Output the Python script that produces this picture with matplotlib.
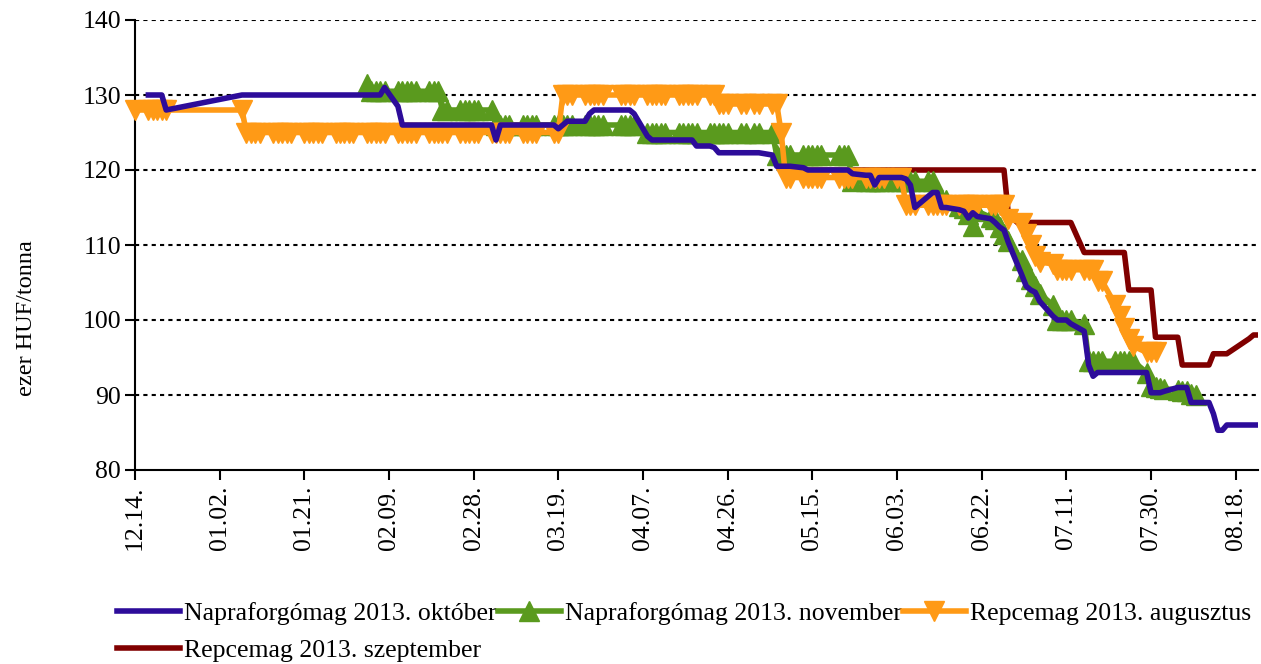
import numpy as np
import pandas as pd
import matplotlib
matplotlib.use("Agg")
import matplotlib.pyplot as plt

plt.rcParams["font.family"] = ["Liberation Serif", "DejaVu Serif"]

# trading days: holiday break around new year + hungarian bank holidays
HOLIDAYS = ["2013-03-15", "2013-04-01", "2013-05-01", "2013-05-20", "2013-08-19", "2013-08-20"]
BREAK_START, BREAK_END = "2012-12-22", "2013-01-06"

N = None
# one row per week
okt = [
    N,
    130, 130, 130, 130, 128,
    130, 130, 130, 130, 130,
    130, 130, 130, 130, 130,
    130, 130, 130, 130, 130,
    130, 130, 130, 130, 130,
    130, 130, 130, 130, 131,
    128.5, 126, 126, 126, 126,
    126, 126, 126, 126, 126,
    126, 126, 126, 126, 126,
    126, 124, 126, 126, 126,
    126, 126, 126, 126,
    126, 125.5, 126, 126.5, 126.5,
    126.5, 127.5, 128, 128, 128,
    128, 128, 128, 127.5,
    124.5, 124, 124, 124, 124,
    124, 124, 124, 124, 123.2,
    123.2, 123, 122.3, 122.3, 122.3,
    122.3, 122.3, 122.3, 122.3,
    122, 120.5, 120.5, 120.5, 120.5,
    120.3, 120, 120, 120, 120,
    120, 120, 120, 119.5,
    119.3, 119.3, 118, 119, 119,
    119, 119, 118.8, 118, 115,
    116.5, 117, 117, 115, 115,
    114.7, 114.5, 113.6, 114.3, 113.8,
    113.5, 113, 112.4, 112, 110.3,
    106, 104.5, 104, 103.7, 102.5,
    100.5, 100, 100, 100, 99.5,
    98.5, 94, 92.5, 93, 93,
    93, 93, 93, 93, 93,
    93, 90.3, 90.3, 90.3, 90.5,
    91, 91, 91, 89, 89,
    89, 87.5, 85.3, 85.3, 86,
    86, 86, 86,
]

nov = [
    N,
    N, N, N, N, N,
    N, N, N, N, N,
    N, N, N, N, N,
    N, N, N, N, N,
    N, N, N, N, N,
    131.5, 130.5, 130.5, 130.5, 130.5,
    130.5, 130.5, 130.5, 130.5, 130.5,
    130.5, 130.5, 130.5, 128, 128,
    128, 128, 128, 128, 128,
    128, 126, 126, 126, 126,
    126, 126, 126, 126,
    126, 126, 126, 126, 126,
    126, 126, 126, 126, 126,
    126, 126, 126, 126,
    125, 125, 125, 125, 125,
    125, 125, 125, 125, 125,
    125, 125, 125, 125, 125,
    125, 125, 125, 125,
    125, 122, 122, 122, 122,
    122, 122, 122, 122, 122,
    122, 122, 122, 118.5,
    118.5, 118.5, 118.5, 118.5, 118.5,
    118.5, 118.5, 118.5, 118.5, 118.5,
    118.5, 118.5, 117.2, 116, 116,
    115.2, 115, 114.1, 112.5, 114.5,
    113.7, 113.5, 112.4, 111.5, 110.5,
    108, 106.5, 105.5, 104.5, 103.5,
    102, 100, 100, 100, 100,
    99.5, 94.5, 94.5, 94.5, 94.5,
    94.5, 94.5, 94.5, 94.5, 94.5,
    93, 91.2, 91.1, 91, 90.8,
    90.7, 90.5, 90.5, 90.2, 90,
    N, N, N, N, N,
    N, N, N,
]

aug = [
    128,
    128, 128, 128, 128, 128,
    128, 125, 125, 125, 125,
    125, 125, 125, 125, 125,
    125, 125, 125, 125, 125,
    125, 125, 125, 125, 125,
    125, 125, 125, 125, 125,
    125, 125, 125, 125, 125,
    125, 125, 125, 125, 125,
    125, 125, 125, 125, 125,
    125, 125, 125, 125, 125,
    125, 125, 125, 125,
    125, 125, 130, 130, 130,
    130, 130, 130, 130, 130,
    130, 130, 130, 130,
    130, 130, 130, 130, 130,
    130, 130, 130, 130, 130,
    130, 130, 128.8, 128.8, 128.8,
    128.8, 128.8, 128.8, 128.8,
    128.8, 128.8, 125, 119, 119,
    119, 119, 119, 119, 119,
    119, 119, 119, 119,
    119, 119, 119, 119, 119,
    119, 119, 115.3, 115.3, 115.3,
    115.3, 115.3, 115.3, 115.3, 115.3,
    115.3, 115.3, 115.3, 115.3, 115.3,
    115.3, 115.3, 115.3, 115.3, 113.5,
    113, 111.5, 110, 108.5, 107.7,
    107.5, 106.7, 106.7, 106.7, 106.7,
    106.7, 106.7, 106.7, 105.2, 105.2,
    102, 100.5, 99, 97.5, 96.5,
    95.7, 95.7, 95.7, N, N,
    N, N, N, N, N,
    N, N, N, N, N,
    N, N, N,
]

szep = [
    N,
    N, N, N, N, N,
    N, N, N, N, N,
    N, N, N, N, N,
    N, N, N, N, N,
    N, N, N, N, N,
    N, N, N, N, N,
    N, N, N, N, N,
    N, N, N, N, N,
    N, N, N, N, N,
    N, N, N, N, N,
    N, N, N, N,
    N, N, N, N, N,
    N, N, N, N, N,
    N, N, N, N,
    N, N, N, N, N,
    N, N, N, N, N,
    N, N, N, N, N,
    N, N, N, N,
    N, N, 120, 120, 120,
    120, 120, 120, 120, 120,
    120, 120, 120, 120,
    120, 120, 120, 120, 120,
    120, 120, 120, 120, 120,
    120, 120, 120, 120, 120,
    120, 120, 120, 120, 120,
    120, 120, 120, 120, 114,
    112.5, 111.5, 113, 113, 113,
    113, 113, 113, 113, 113,
    109, 109, 109, 109, 109,
    109, 109, 109, 104, 104,
    104, 104, 97.7, 97.7, 97.7,
    97.7, 94, 94, 94, 94,
    94, 95.5, 95.5, 95.5, 95.5,
    97.5, 98, 98,
]

labels = ["Napraforgómag 2013. október", "Napraforgómag 2013. november",
          "Repcemag 2013. augusztus", "Repcemag 2013. szeptember"]
colors = ["#2d0c9a", "#5a9a1e", "#ff9a16", "#800000"]

days = pd.bdate_range("2012-12-14", "2013-08-23")
days = days[~days.isin(pd.to_datetime(HOLIDAYS))]
days = days[(days < BREAK_START) | (days > BREAK_END)]

fig = plt.figure(figsize=(12.61, 6.64), dpi=100)
ax = fig.add_axes([135 / 1261, 1 - 470 / 664, (1258 - 135) / 1261, 450 / 664])

for y in range(90, 141, 10):
    ax.axhline(y, color="black", lw=1.5, ls=(0, (2, 2)), zorder=0.5)

lw = 4
ms = 14
l4, = ax.plot(days, np.array(szep, dtype=float), color=colors[3], lw=lw, zorder=2)
l2, = ax.plot(days, np.array(nov, dtype=float), color=colors[1], lw=lw,
              marker="^", ms=ms, mec=colors[1], zorder=3, clip_on=False)
l3, = ax.plot(days, np.array(aug, dtype=float), color=colors[2], lw=lw,
              marker="v", ms=ms, mec=colors[2], zorder=4, clip_on=False)
l1, = ax.plot(days, np.array(okt, dtype=float), color=colors[0], lw=lw, zorder=5)

ax.set_ylim(80, 140)
ax.set_yticks(range(80, 141, 10))
ax.set_xlim(pd.Timestamp("2012-12-14"), pd.Timestamp("2013-08-23"))
ticks = pd.date_range("2012-12-14", periods=14, freq="19D")
ax.set_xticks(ticks)
ax.set_xticklabels([t.strftime("%m.%d.") for t in ticks], rotation=90)

for s in ["top", "right"]:
    ax.spines[s].set_visible(False)
for s in ["left", "bottom"]:
    ax.spines[s].set_linewidth(1.5)
ax.tick_params(axis="both", direction="out", length=7, width=1.5, labelsize=18.5)
ax.tick_params(axis="x", pad=4)
ax.tick_params(axis="y", pad=3)

fig.text(27 / 1261, 1 - 318 / 664, "ezer HUF/tonna", rotation=90,
         ha="center", va="center", fontsize=17.5)

# matplotlib fills legend columns first, so reorder to get rows like the original
order = [0, 3, 1, 2]
handles = [l1, l2, l3, l4]
fig.legend([handles[i] for i in order], [labels[i] for i in order], ncol=3,
           loc="upper left", bbox_to_anchor=(117 / 1261, 1 - 602 / 664),
           frameon=False, fontsize=18.5, handlelength=2.45, handletextpad=0.15,
           columnspacing=0.05, borderaxespad=0, borderpad=0, labelspacing=0.55)

fig.savefig("out.png", dpi=100)
